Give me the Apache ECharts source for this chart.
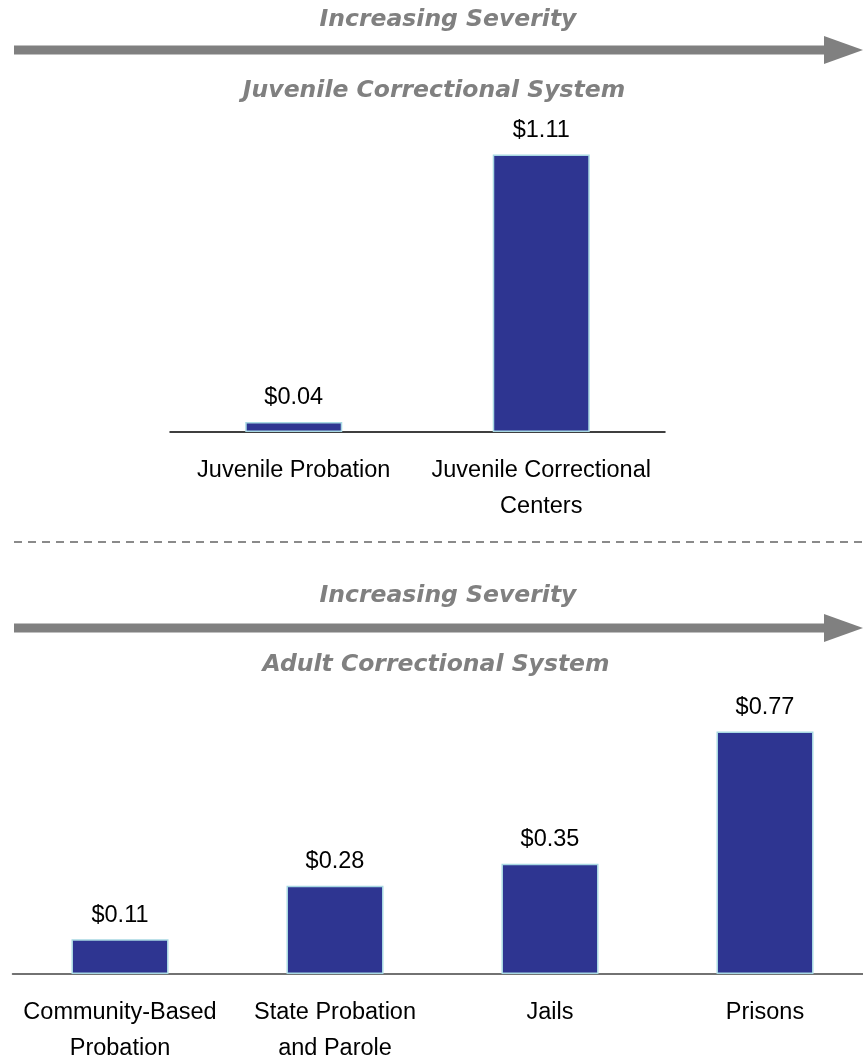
<!DOCTYPE html>
<html>
<head>
<meta charset="utf-8">
<script src="https://cdn.jsdelivr.net/npm/echarts@6/dist/echarts.min.js"></script>
<style>
  html, body { margin: 0; padding: 0; background: #fff; }
  #chart { width: 863px; height: 1057px; }
</style>
</head>
<body>
<div id="chart"></div>
<script>
// juvenile system
var juvenileCategories = ['Juvenile Probation', 'Juvenile Correctional\nCenters'];
var juvenileValues = [0.04, 1.11];

// adult system
var adultCategories = ['Community-Based\nProbation', 'State Probation\nand Parole', 'Jails', 'Prisons'];
var adultValues = [0.11, 0.28, 0.35, 0.77];

var barColor = '#2E3591';
var headFont = 'DejaVu Sans';

function money(p) {
    return '$' + p.value.toFixed(2);
}

function arrow(y) {
    return [
        { type: 'rect', shape: { x: 14, y: y - 4.5, width: 812, height: 9 }, style: { fill: '#808080' } },
        { type: 'polygon', shape: { points: [[824, y - 14], [863, y], [824, y + 14]] }, style: { fill: '#808080' } }
    ];
}

function head(text, x, y) {
    return {
        text: text, left: x, top: y, textAlign: 'center', textVerticalAlign: 'middle',
        textStyle: { fontFamily: headFont, fontStyle: 'italic', fontWeight: 'bold', fontSize: 23.5, color: '#808080' }
    };
}

var myChart = echarts.init(document.getElementById('chart'));

var labelStyle = {
    show: true,
    position: 'top',
    distance: 12,
    formatter: money,
    fontFamily: 'Liberation Sans',
    fontSize: 23.5,
    color: '#000'
};

var catLabel = { margin: 21, fontFamily: 'Liberation Sans', fontSize: 23.5, color: '#000', lineHeight: 36, interval: 0 };

var option = {
    animation: false,
    title: [
        head('Increasing Severity', 443, 15),
        head('Juvenile Correctional System', 429, 86),
        head('Increasing Severity', 443, 591),
        head('Adult Correctional System', 431, 660)
    ],
    graphic: arrow(50).concat(arrow(628)).concat([
        { type: 'line', shape: { x1: 14, y1: 542, x2: 863, y2: 542 },
          style: { stroke: '#8a8a8a', lineWidth: 2, lineDash: [8, 6] } }
    ]),
    grid: [
        { left: 170, width: 495, top: 132, height: 300, outerBoundsMode: 'none' },
        { left: 12.5, width: 860, top: 659, height: 315, outerBoundsMode: 'none' }
    ],
    xAxis: [
        { type: 'category', gridIndex: 0, data: juvenileCategories,
          axisLine: { lineStyle: { color: '#000', width: 1.5 } }, axisTick: { show: false }, axisLabel: catLabel },
        { type: 'category', gridIndex: 1, data: adultCategories,
          axisLine: { lineStyle: { color: '#444', width: 1.5 } }, axisTick: { show: false }, axisLabel: catLabel }
    ],
    yAxis: [
        { type: 'value', gridIndex: 0, min: 0, max: 1.2, show: false, splitLine: { show: false } },
        { type: 'value', gridIndex: 1, min: 0, max: 1, show: false, splitLine: { show: false } }
    ],
    series: [
        { type: 'bar', xAxisIndex: 0, yAxisIndex: 0, data: juvenileValues, barWidth: 97,
          itemStyle: { color: barColor, borderColor: '#A8D8E2', borderWidth: 1.5 }, label: labelStyle },
        { type: 'bar', xAxisIndex: 1, yAxisIndex: 1, data: adultValues, barWidth: 97,
          itemStyle: { color: barColor, borderColor: '#A8D8E2', borderWidth: 1.5 }, label: labelStyle }
    ]
};

myChart.setOption(option);
</script>
</body>
</html>
